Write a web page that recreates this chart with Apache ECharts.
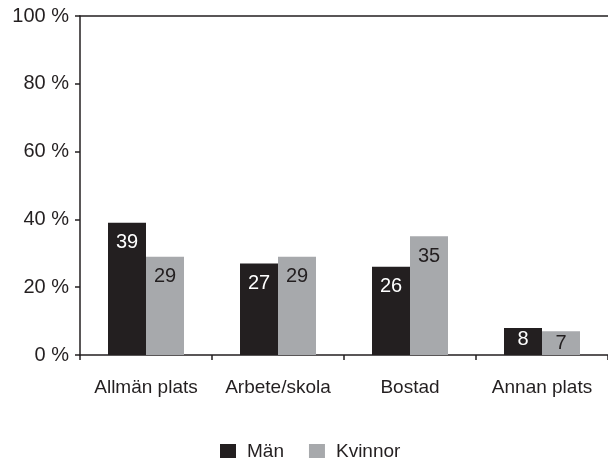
<!DOCTYPE html>
<html><head><meta charset="utf-8">
<script src="https://cdn.jsdelivr.net/npm/echarts@6/dist/echarts.min.js"></script>
<style>html,body{margin:0;padding:0;background:#fff}#c{width:608px;height:458px}</style>
</head><body><div id="c"></div>
<script>
const categories = ['Allmän plats', 'Arbete/skola', 'Bostad', 'Annan plats'];
const men = [39, 27, 26, 8];
const women = [29, 29, 35, 7];
const yTicks = [0, 20, 40, 60, 80, 100];
const seriesNames = ['Män', 'Kvinnor'];

const font = 'Liberation Sans, Arial, sans-serif';
const dark = '#231f20';
const gray = '#a7a9ac';
const withLabelPos = arr => arr.map(v => v < 12 ? { value: v, label: { distance: 2 } } : v);
const chart = echarts.init(document.getElementById('c'));
chart.setOption({
  animation: false,
  textStyle: { fontFamily: font },
  grid: { left: 80, top: 16, width: 532, height: 339 },
  legend: {
    top: 442, left: 220, padding: 0, itemWidth: 16, itemHeight: 15, itemGap: 25,
    icon: 'rect',
    textStyle: { fontSize: 19, lineHeight: 15, color: dark, fontFamily: font, padding: [0, 0, 0, 6] },
    data: seriesNames
  },
  xAxis: [{
    type: 'category', data: categories,
    axisLine: { lineStyle: { color: dark, width: 1.5 } },
    axisTick: { show: true, interval: 0, length: 5, lineStyle: { color: dark, width: 1.5 } },
    axisLabel: { interval: 0, fontSize: 19, color: dark, margin: 23, fontFamily: font }
  }, {
    type: 'category', data: categories, position: 'top',
    axisLine: { show: true, lineStyle: { color: dark, width: 1.5 } },
    axisTick: { show: false }, axisLabel: { show: false }
  }],
  yAxis: {
    type: 'value', min: 0, max: 100, interval: 20,
    axisLine: { show: true, lineStyle: { color: dark, width: 1.5 } },
    axisTick: { show: true, length: 5, lineStyle: { color: dark, width: 1.5 } },
    splitLine: { show: false },
    axisLabel: {
      fontSize: 20, color: dark, margin: 11, fontFamily: font,
      formatter: v => yTicks.includes(v) ? v + ' %' : ''
    }
  },
  series: [{
    name: seriesNames[0], type: 'bar', data: withLabelPos(men), barWidth: 38, barGap: '0%',
    itemStyle: { color: dark },
    label: { show: true, position: 'insideTop', distance: 10, color: '#fff', fontSize: 20, fontFamily: font }
  }, {
    name: seriesNames[1], type: 'bar', data: withLabelPos(women), barWidth: 38, barGap: '0%',
    itemStyle: { color: gray },
    label: { show: true, position: 'insideTop', distance: 10, color: dark, fontSize: 20, fontFamily: font }
  }]
});
</script></body></html>
